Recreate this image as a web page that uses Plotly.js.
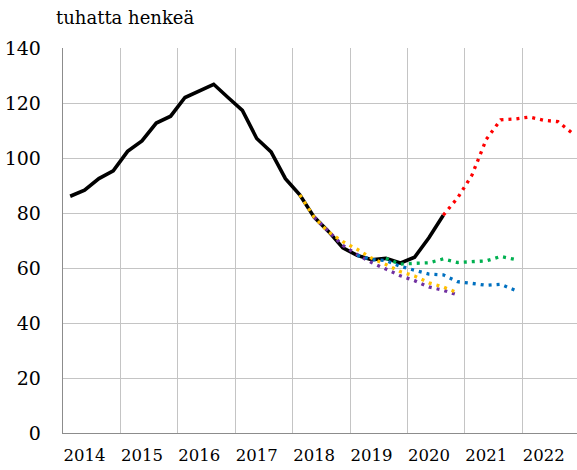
<!DOCTYPE html>
<html>
<head>
<meta charset="utf-8">
<script src="https://cdn.plot.ly/plotly-3.0.1.min.js"></script>
<style>html,body{margin:0;padding:0;background:#fff;}#chart{width:577px;height:470px;}</style>
</head>
<body>
<div id="chart"></div>
<script>
// Quarterly periods on the x axis
const quarters = [];
for (let y = 2014; y <= 2022; y++) for (let q = 1; q <= 4; q++) quarters.push(y + 'Q' + q);

const yearLabels = ['2014','2015','2016','2017','2018','2019','2020','2021','2022'];
const yearLabelPos = ['2014Q2','2015Q2','2016Q2','2017Q2','2018Q2','2019Q2','2020Q2','2021Q2','2022Q2'];
const yearStarts = ['2014Q1','2015Q1','2016Q1','2017Q1','2018Q1','2019Q1','2020Q1','2021Q1','2022Q1'];

// Series (thousand persons)
const actualStart = '2014Q1';
const actual = [86.1, 88.3, 92.5, 95.3, 102.4, 106.2, 112.7, 115.2, 122.0, 124.5, 126.8, 122.0,
                117.3, 107.1, 102.2, 92.5, 86.6, 78.5, 73.3, 67.3, 64.6, 63.0, 63.5, 61.8,
                63.9, 71.0, 79.2];
const redStart = '2020Q3';
const red = [79.2, 85.5, 93.8, 106.8, 113.9, 114.2, 114.9, 113.7, 113.2, 109.0];
const purpleStart = '2018Q2';
const purple = [78.5, 73.3, 68.2, 64.9, 62.0, 59.6, 57.2, 55.4, 53.1, 51.9, 50.2];
const yellowStart = '2018Q1';
const yellow = [86.6, 78.5, 73.1, 69.6, 66.8, 63.6, 61.3, 58.7, 57.1, 54.6, 53.1, 51.0];
const blueStart = '2019Q1';
const blue = [64.6, 63.1, 62.7, 60.6, 59.2, 57.8, 57.5, 55.0, 54.4, 53.7, 54.1, 51.9];
const greenStart = '2019Q3';
const green = [63.5, 61.4, 61.7, 61.9, 63.3, 62.0, 62.3, 62.6, 64.2, 63.1];

const idx = p => quarters.indexOf(p);
const xs = (start, vals) => vals.map((_, k) => idx(start) + k);

const dotLine = color => ({color: color, width: 3.3, dash: '3px,5px'});

const traces = [
  {x: xs(actualStart, actual), y: actual, mode: 'lines', line: {color: '#000000', width: 3.6}},
  {x: xs(redStart, red), y: red, mode: 'lines', line: dotLine('#ff0000')},
  {x: xs(purpleStart, purple), y: purple, mode: 'lines', line: dotLine('#7030a0')},
  {x: xs(yellowStart, yellow), y: yellow, mode: 'lines', line: dotLine('#ffc000')},
  {x: xs(blueStart, blue), y: blue, mode: 'lines', line: dotLine('#0070c0')},
  {x: xs(greenStart, green), y: green, mode: 'lines', line: dotLine('#00b050')}
];

const font = 'DejaVu Serif';

const layout = {
  width: 577, height: 470,
  margin: {l: 63, r: 0, t: 48, b: 37, pad: 0},
  paper_bgcolor: '#ffffff', plot_bgcolor: '#ffffff',
  showlegend: false,
  font: {family: font, color: '#000000', size: 18},
  title: {text: 'tuhatta henkeä', font: {family: font, size: 18, color: '#000'},
          xref: 'container', yref: 'container', x: 56/577, xanchor: 'left',
          y: 1 - 11/470, yanchor: 'top'},
  xaxis: {
    range: [-0.5, -0.5 + (577 - 63) / 14.35],
    tickvals: yearLabelPos.map(idx), ticktext: yearLabels,
    showgrid: false, zeroline: false,
    showline: true, linecolor: '#8c8c8c', linewidth: 1.3,
    ticks: '', ticklabelstandoff: 7,
    tickfont: {family: font, size: 16.5, color: '#000'},
    minor: {tickvals: yearStarts.map(p => idx(p) - 0.5), showgrid: true, gridcolor: '#c4c4c4', gridwidth: 1, ticks: ''}
  },
  yaxis: {
    range: [0, 140], tick0: 0, dtick: 20,
    showgrid: true, gridcolor: '#c4c4c4', gridwidth: 1,
    zeroline: false, showline: true, linecolor: '#8c8c8c', linewidth: 1.3,
    ticks: '', ticklabelstandoff: 17,
    tickfont: {family: font, size: 19, color: '#000'}
  }
};

Plotly.newPlot('chart', traces, layout, {staticPlot: true, displayModeBar: false});
</script>
</body>
</html>
